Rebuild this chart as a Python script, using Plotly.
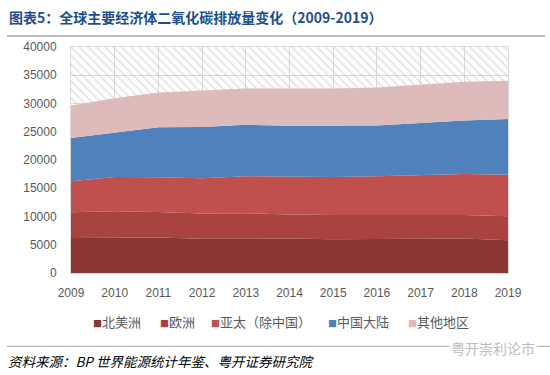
import plotly.graph_objects as go

years = [2009, 2010, 2011, 2012, 2013, 2014, 2015, 2016, 2017, 2018, 2019]
north_america = [6210, 6270, 6270, 6040, 6100, 6100, 5980, 5980, 6040, 6100, 5800]
europe = [4540, 4650, 4540, 4480, 4480, 4240, 4300, 4300, 4240, 4180, 4240]
asia_pacific_ex_china = [5480, 6070, 6130, 6240, 6540, 6710, 6710, 6830, 7010, 7250, 7360]
china_mainland = [7660, 7890, 8840, 9070, 9130, 9010, 9070, 9010, 9250, 9480, 9840]
other_regions = [5770, 6070, 6180, 6420, 6420, 6600, 6600, 6710, 6770, 6830, 6770]

series_names = ["北美洲", "欧洲", "亚太（除中国）", "中国大陆", "其他地区"]
series_values = [north_america, europe, asia_pacific_ex_china, china_mainland, other_regions]
series_colors = ["#8B3633", "#A8433F", "#C0504D", "#4F81BD", "#DFBABA"]

y_max = 40000
y_ticks = [0, 5000, 10000, 15000, 20000, 25000, 30000, 35000, 40000]

# plot-area geometry in pixels
W, H = 550, 375
L, R, T, B = 71, 508, 47, 273.5
PW, PH = R - L, B - T


def px(x):
    return (x - L) / PW


def py(y):
    return (B - y) / PH


fig = go.Figure()

# hatched background band (up to the axis maximum)
fig.add_trace(go.Scatter(
    x=years, y=[y_max] * len(years), mode="none", fill="tozeroy",
    fillcolor="white",
    fillpattern=dict(shape="\\", fgcolor="#C4C4C4", bgcolor="rgba(255,255,255,0)",
                     size=6, solidity=0.25),
    showlegend=False, hoverinfo="skip",
))

for name, vals, col in zip(series_names, series_values, series_colors):
    fig.add_trace(go.Scatter(
        x=years, y=vals, name=name, mode="lines", stackgroup="one",
        line=dict(width=0, color=col), fillcolor=col, showlegend=False,
    ))

cjk = "Noto Sans CJK SC"
fig.update_layout(
    width=W, height=H,
    margin=dict(l=L, r=W - R, t=T, b=H - B),
    paper_bgcolor="white", plot_bgcolor="white",
    font=dict(family=cjk, color="#595959", size=12),
    xaxis=dict(
        range=[2009, 2019], tickvals=years, ticktext=[str(y) for y in years],
        showgrid=True, gridcolor="#D9D9D9", gridwidth=1,
        showline=True, linecolor="#D9D9D9", mirror=True,
        ticks="", tickfont=dict(family="Liberation Sans", size=12, color="#595959"),
        zeroline=False, ticklabelstandoff=9,
    ),
    yaxis=dict(
        range=[0, y_max], tickvals=y_ticks, tickformat="d",
        showgrid=True, gridcolor="#D9D9D9", gridwidth=1,
        showline=True, linecolor="#D9D9D9", mirror=True,
        ticks="", tickfont=dict(family="Liberation Sans", size=12, color="#595959"),
        zeroline=False, ticklabelstandoff=11,
    ),
    showlegend=False,
)

# legend entries (square marker + name), built from the series lists
legend_left = [92, 159, 210, 327, 407]
for name, col, lx in zip(series_names, series_colors, legend_left):
    fig.add_annotation(
        text=f"<span style='color:{col};font-size:9px'>■</span>{name}",
        xref="paper", yref="paper", x=px(lx - 1), y=py(322),
        xanchor="left", yanchor="middle", showarrow=False,
        font=dict(family=cjk, size=13, color="#595959"),
    )

fig.add_annotation(
    text="<b>图表5：全球主要经济体二氧化碳排放量变化（2009-2019）</b>",
    xref="paper", yref="paper", x=px(7), y=py(17),
    xanchor="left", yanchor="middle", showarrow=False,
    font=dict(family=cjk, size=14, color="#1F4E8C"),
)

fig.add_shape(type="line", xref="paper", yref="paper",
              x0=px(7), x1=px(545), y0=py(36), y1=py(36),
              line=dict(color="#A6A6A6", width=1.5))
fig.add_shape(type="line", xref="paper", yref="paper",
              x0=px(7), x1=px(550), y0=py(347), y1=py(347),
              line=dict(color="#A6A6A6", width=1))

fig.add_annotation(
    text="<i>资料来源：BP 世界能源统计年鉴、粤开证券研究院</i>",
    xref="paper", yref="paper", x=px(6), y=py(361.5),
    xanchor="left", yanchor="middle", showarrow=False,
    font=dict(family=cjk, size=13.5, color="#000000"),
)
fig.add_annotation(
    text="粤开崇利论市",
    xref="paper", yref="paper", x=px(537), y=py(349),
    xanchor="right", yanchor="middle", showarrow=False,
    bgcolor="white", borderpad=1,
    font=dict(family=cjk, size=14, color="#BDBDBD"),
)

fig.write_html("out.html", config={"displayModeBar": False},
               post_script="document.body.style.margin='0';")
